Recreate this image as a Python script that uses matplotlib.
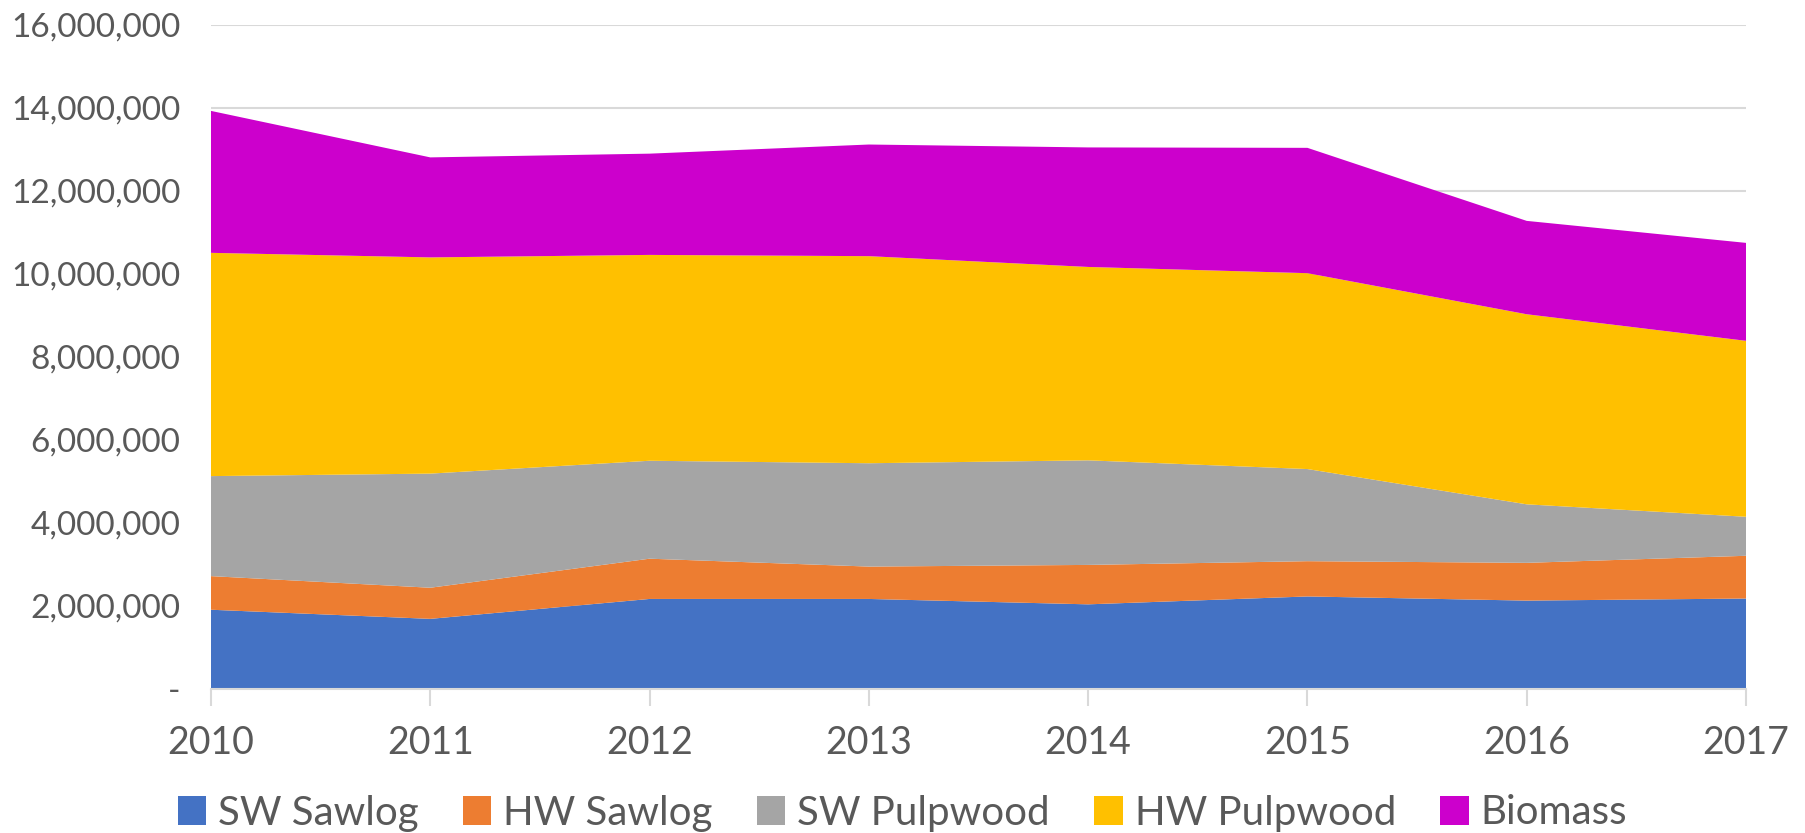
import matplotlib

matplotlib.use("Agg")
import matplotlib.pyplot as plt
from matplotlib.patches import Patch
from matplotlib.ticker import FuncFormatter

years = [2010, 2011, 2012, 2013, 2014, 2015, 2016, 2017]
sw_sawlog = [1910000, 1690000, 2170000, 2170000, 2040000, 2230000, 2130000, 2180000]
hw_sawlog = [810000, 750000, 970000, 780000, 950000, 850000, 910000, 1030000]
sw_pulpwood = [2410000, 2750000, 2360000, 2490000, 2520000, 2220000, 1410000, 940000]
hw_pulpwood = [5380000, 5210000, 4960000, 4990000, 4660000, 4720000, 4580000, 4240000]
biomass = [3420000, 2410000, 2440000, 2690000, 2880000, 3020000, 2250000, 2360000]

labels = ["SW Sawlog", "HW Sawlog", "SW Pulpwood", "HW Pulpwood", "Biomass"]
colors = ["#4472C4", "#ED7D31", "#A5A5A5", "#FFC000", "#CC00CC"]
text_color = "#595959"

plt.rcParams["font.family"] = ["Lato", "DejaVu Sans"]

fig = plt.figure(figsize=(18.05, 8.33), dpi=100)
ax = fig.add_axes([211 / 1805, 1 - 689 / 833, (1746 - 211) / 1805, (689 - 25) / 833])

ax.stackplot(years, sw_sawlog, hw_sawlog, sw_pulpwood, hw_pulpwood, biomass,
             colors=colors, linewidth=0, zorder=2)

ax.set_xlim(2010, 2017)
ax.set_ylim(0, 16000000)
ax.set_yticks(range(0, 16000001, 2000000))
ax.yaxis.set_major_formatter(FuncFormatter(lambda v, p: "-" if v == 0 else f"{int(v):,}"))
ax.set_xticks(years)

ax.grid(axis="y", color="#D9D9D9", linewidth=1.5, zorder=0)
for s in ["top", "right", "left"]:
    ax.spines[s].set_visible(False)
ax.spines["bottom"].set_color("#D9D9D9")
ax.spines["bottom"].set_linewidth(1.5)
ax.spines["bottom"].set_zorder(3)

ax.tick_params(axis="y", length=0, pad=22, labelsize=24, labelcolor=text_color)
ax.tick_params(axis="x", length=12, width=1.5, color="#D9D9D9", pad=14,
               labelsize=27, labelcolor=text_color)

handles = [Patch(facecolor=c, label=l) for c, l in zip(colors, labels)]
fig.legend(handles=handles, loc="center", bbox_to_anchor=(0.5, 1 - 813 / 833), ncol=5,
           frameon=False, fontsize=29, labelcolor=text_color, handlelength=0.7,
           handleheight=0.7, handletextpad=0.3, columnspacing=1.1)

fig.savefig("out.png", dpi=100)
